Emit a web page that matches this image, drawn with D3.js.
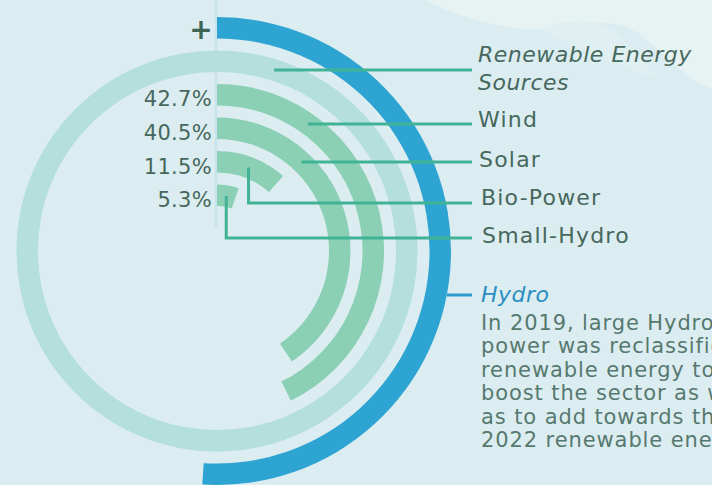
<!DOCTYPE html>
<html>
<head>
<meta charset="utf-8">
<script src="https://cdn.jsdelivr.net/npm/d3@7"></script>
<style>
  body { margin: 0; background: #dcedf1; }
  svg { display: block; font-family: "DejaVu Sans", sans-serif; }
</style>
</head>
<body>
<script>
// data (inner ring first)
var categories = ["Small-Hydro", "Bio-Power", "Solar", "Wind", "Renewable Energy Sources", "Hydro"];
var values = [5.3, 11.5, 40.5, 42.7, 100, 51];
var pctLabels = ["5.3%", "11.5%", "40.5%", "42.7%"];
var bodyLines = [
  "In 2019, large Hydro",
  "power was reclassified as",
  "renewable energy to",
  "boost the sector as well",
  "as to add towards the",
  "2022 renewable energy"
];

var svgWidth = 712, svgHeight = 485;
var cx = 217, cy = 251;

var svg = d3.select("body").append("svg")
  .attr("width", svgWidth)
  .attr("height", svgHeight);

svg.append("rect").attr("width", svgWidth).attr("height", svgHeight).attr("fill", "#dcedf1");

// soft background shapes top right
svg.append("path")
  .attr("d", "M425,0 C470,22 520,34 560,28 C590,22 615,18 640,34 C665,55 690,82 712,88 L712,0 Z")
  .attr("fill", "#e7f2f3");
svg.append("path")
  .attr("d", "M540,30 C565,20 585,18 605,26 C625,36 640,60 660,80 C630,70 600,55 540,30 Z")
  .attr("fill", "#e0eff1");

var data = categories.map(function(c, i) { return { name: c, value: values[i] }; });

var rScale = d3.scaleBand()
  .domain(categories)
  .range([45, 234])
  .paddingInner(0.36);

var angle = d3.scaleLinear().domain([0, 100]).range([0, 2 * Math.PI]);

var color = d3.scaleOrdinal()
  .domain(categories)
  .range(["#8bcfb5", "#8bcfb5", "#8bcfb5", "#8bcfb5", "#b4dfdb", "#2ea4d3"]);

var chartGroup = svg.append("g").attr("transform", `translate(${cx}, ${cy})`);

// thin vertical guide
chartGroup.append("line")
  .attr("x1", -1).attr("x2", -1)
  .attr("y1", -cy).attr("y2", 228 - cy)
  .attr("stroke", "#c8e3ec")
  .attr("stroke-width", 2.5);

var arc = d3.arc()
  .innerRadius(d => rScale(d.name))
  .outerRadius(d => rScale(d.name) + rScale.bandwidth())
  .startAngle(0)
  .endAngle(d => angle(d.value));

chartGroup.selectAll("path.bar")
  .data(data)
  .enter()
  .append("path")
  .attr("class", "bar")
  .attr("d", arc)
  .attr("fill", d => color(d.name));

// percent labels
chartGroup.selectAll("text.pct")
  .data(data.slice(0, 4))
  .enter()
  .append("text")
  .attr("class", "pct")
  .attr("x", -5)
  .attr("y", d => -rScale(d.name) + 1)
  .attr("text-anchor", "end")
  .attr("font-size", 21)
  .attr("letter-spacing", 0.3)
  .attr("fill", "#46675c")
  .text((d, i) => pctLabels[i]);

// plus sign
svg.append("text")
  .attr("x", 201).attr("y", 39)
  .attr("text-anchor", "middle")
  .attr("font-size", 28)
  .attr("font-weight", "bold")
  .attr("fill", "#3e6652")
  .text("+");

// leader lines
var lineEnd = 472;
var lineY = [238, 203, 162, 124, 70, 295];
var elbow = [true, true, false, false, false, false];

data.forEach(function(d, i) {
  var rMid = rScale(d.name) + rScale.bandwidth() / 2;
  var p;
  if (elbow[i]) {
    var a = angle(d.value) / 2;
    var x0 = cx + rMid * Math.sin(a), y0 = cy - rMid * Math.cos(a);
    p = `M${x0},${y0} V${lineY[i]} H${lineEnd}`;
  } else {
    var rr = d.name === "Hydro" ? rScale(d.name) + rScale.bandwidth() : rMid;
    var dy = cy - lineY[i];
    var x0 = cx + Math.sqrt(rr * rr - dy * dy);
    p = `M${x0},${lineY[i]} H${lineEnd}`;
  }
  svg.append("path")
    .attr("d", p)
    .attr("fill", "none")
    .attr("stroke", d.name === "Hydro" ? "#2e9cc9" : "#40b395")
    .attr("stroke-width", 3);
});

// right side labels
var labelX = 478;
var labels = svg.append("g")
  .attr("font-size", 22)
  .attr("letter-spacing", 1.2)
  .attr("fill", "#46685d");

labels.append("text").attr("x", labelX).attr("y", 62).attr("font-style", "italic").attr("letter-spacing", 0.5).text("Renewable Energy");
labels.append("text").attr("x", labelX).attr("y", 90).attr("font-style", "italic").attr("letter-spacing", 0.5).text("Sources");
labels.append("text").attr("x", labelX).attr("y", 127).text(categories[3]);
labels.append("text").attr("x", labelX + 1).attr("y", 167).text(categories[2]);
labels.append("text").attr("x", labelX + 3).attr("y", 205).text(categories[1]);
labels.append("text").attr("x", labelX + 4).attr("y", 243).text(categories[0]);

labels.append("text")
  .attr("x", labelX + 3).attr("y", 302)
  .attr("font-style", "italic")
  .attr("letter-spacing", 0.5)
  .attr("fill", "#2b8ec1")
  .text(categories[5]);

labels.selectAll("text.body")
  .data(bodyLines)
  .enter()
  .append("text")
  .attr("class", "body")
  .attr("x", labelX + 3)
  .attr("y", (d, i) => 330 + i * 23.4)
  .attr("font-size", 21)
  .attr("letter-spacing", 0.9)
  .attr("fill", "#56796f")
  .text(d => d);
</script>
</body>
</html>
